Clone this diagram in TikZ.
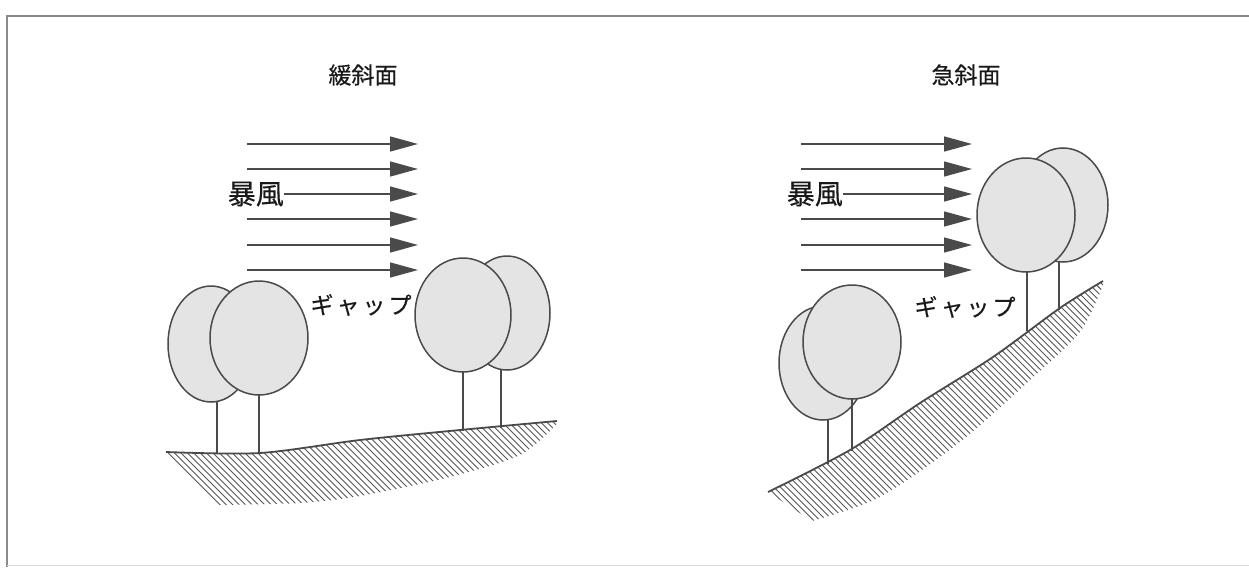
\documentclass[tikz,border=0pt]{standalone}
\usepackage{fontspec}
\newfontfamily\jpfont[FakeBold=0.4]{Noto Sans CJK JP}
\usetikzlibrary{arrows.meta}
\definecolor{inkgray}{HTML}{4A4A4A}
\definecolor{leafgray}{HTML}{E4E4E4}
\definecolor{hatchgray}{HTML}{555555}
\definecolor{framegray}{HTML}{8A8A8A}
\begin{document}
\begin{tikzpicture}[x=1pt,y=-1pt,
  label/.style={inner sep=0pt,font=\jpfont\fontsize{23}{23}\selectfont,text=black!90},
  windlabel/.style={inner sep=0pt,font=\jpfont\fontsize{28}{28}\selectfont,text=black!90},
  wind/.style={draw=inkgray,line width=1.4pt,-{Triangle[length=28pt,width=15pt]}},
  crown/.style={draw=inkgray,fill=leafgray,line width=1.5pt},
  trunk/.style={draw=inkgray,line width=1.8pt},
  ground/.style={draw=inkgray,line width=1.8pt},
  hatchline/.style={draw=hatchgray,line width=0.9pt}]
\useasboundingbox (0,0) rectangle (1249,567);
% frame
\draw[framegray,line width=1.4pt] (1249,16) -- (7,16) -- (7,567);
\draw[black!15,line width=1pt] (7,565) -- (1249,565);

% ---------- gentle slope ----------
\node[label] (tgentle) at (363,75) {緩斜面};
\foreach \y/\n in {144/a,169/b,219/d,245/e,270/f}{
  \coordinate (gs\n) at (247,\y);
  \coordinate (ge\n) at (418,\y);
  \draw[wind] (gs\n) -- (ge\n);
}
\node[windlabel,anchor=east] (wgentle) at (284,194) {暴風};
\coordinate (gec) at (418,194);
\draw[wind] (wgentle.east) -- (gec);
\node[label] (gapgentle) at (361,305) {ギ\kern3ptャ\kern3ptッ\kern3ptプ};

% ground hatching
\begin{scope}
  \clip plot[smooth] coordinates {(166,452) (260,453) (360,440) (460,430) (557,421)}
    -- plot[smooth] coordinates {(557,424) (520,455) (450,477) (360,496) (300,503) (215,505)} -- cycle;
  \foreach \i in {0,...,100}{
    \draw[hatchline] (0+\i*6.4,400) -- ++(140,140);
  }
\end{scope}
\draw[ground] plot[smooth] coordinates {(166,452) (260,453) (360,440) (460,430) (557,421)};

% left pair of trees
\draw[crown] (211,344) ellipse [x radius=43pt,y radius=58pt];
\draw[trunk] (217,402) -- (217,453);
\draw[crown] (259,338) ellipse [x radius=49pt,y radius=57pt];
\draw[trunk] (259,395) -- (259,453);
% right pair of trees
\draw[crown] (507,313) ellipse [x radius=43pt,y radius=57pt];
\draw[trunk] (501,370) -- (501,428);
\draw[crown] (463,315) ellipse [x radius=48pt,y radius=57pt];
\draw[trunk] (463,372) -- (463,431);

% ---------- steep slope ----------
\node[label] (tsteep) at (966,75) {急斜面};
\foreach \y/\n in {144/a,169/b,219/d,245/e,270/f}{
  \coordinate (ss\n) at (801,\y);
  \coordinate (se\n) at (972,\y);
  \draw[wind] (ss\n) -- (se\n);
}
\node[windlabel,anchor=east] (wsteep) at (843,194) {暴風};
\coordinate (sec) at (972,194);
\draw[wind] (wsteep.east) -- (sec);
\node[label] (gapsteep) at (965,307) {ギ\kern3ptャ\kern3ptッ\kern3ptプ};

% ground hatching
\begin{scope}
  \clip plot[smooth] coordinates {(768,492) (850,450) (920,403) (993,357) (1060,308) (1103,281)}
    -- plot[smooth] coordinates {(1103,285) (1080,332) (1030,380) (960,442) (880,497) (812,521)} -- cycle;
  \foreach \i in {0,...,110}{
    \draw[hatchline] (470+\i*6.4,260) -- ++(280,280);
  }
\end{scope}
\draw[ground] plot[smooth] coordinates {(768,492) (850,450) (920,403) (993,357) (1060,308) (1103,281)};

% lower trees
\draw[crown] (823,363) ellipse [x radius=44pt,y radius=57pt];
\draw[trunk] (828,420) -- (828,464);
\draw[crown] (852,342) ellipse [x radius=49pt,y radius=57pt];
\draw[trunk] (852,399) -- (852,451);
% upper trees
\draw[crown] (1063,205) ellipse [x radius=45pt,y radius=57pt];
\draw[trunk] (1059,262) -- (1059,310);
\draw[crown] (1026,215) ellipse [x radius=49pt,y radius=57pt];
\draw[trunk] (1027,272) -- (1027,331);
\end{tikzpicture}
\end{document}
